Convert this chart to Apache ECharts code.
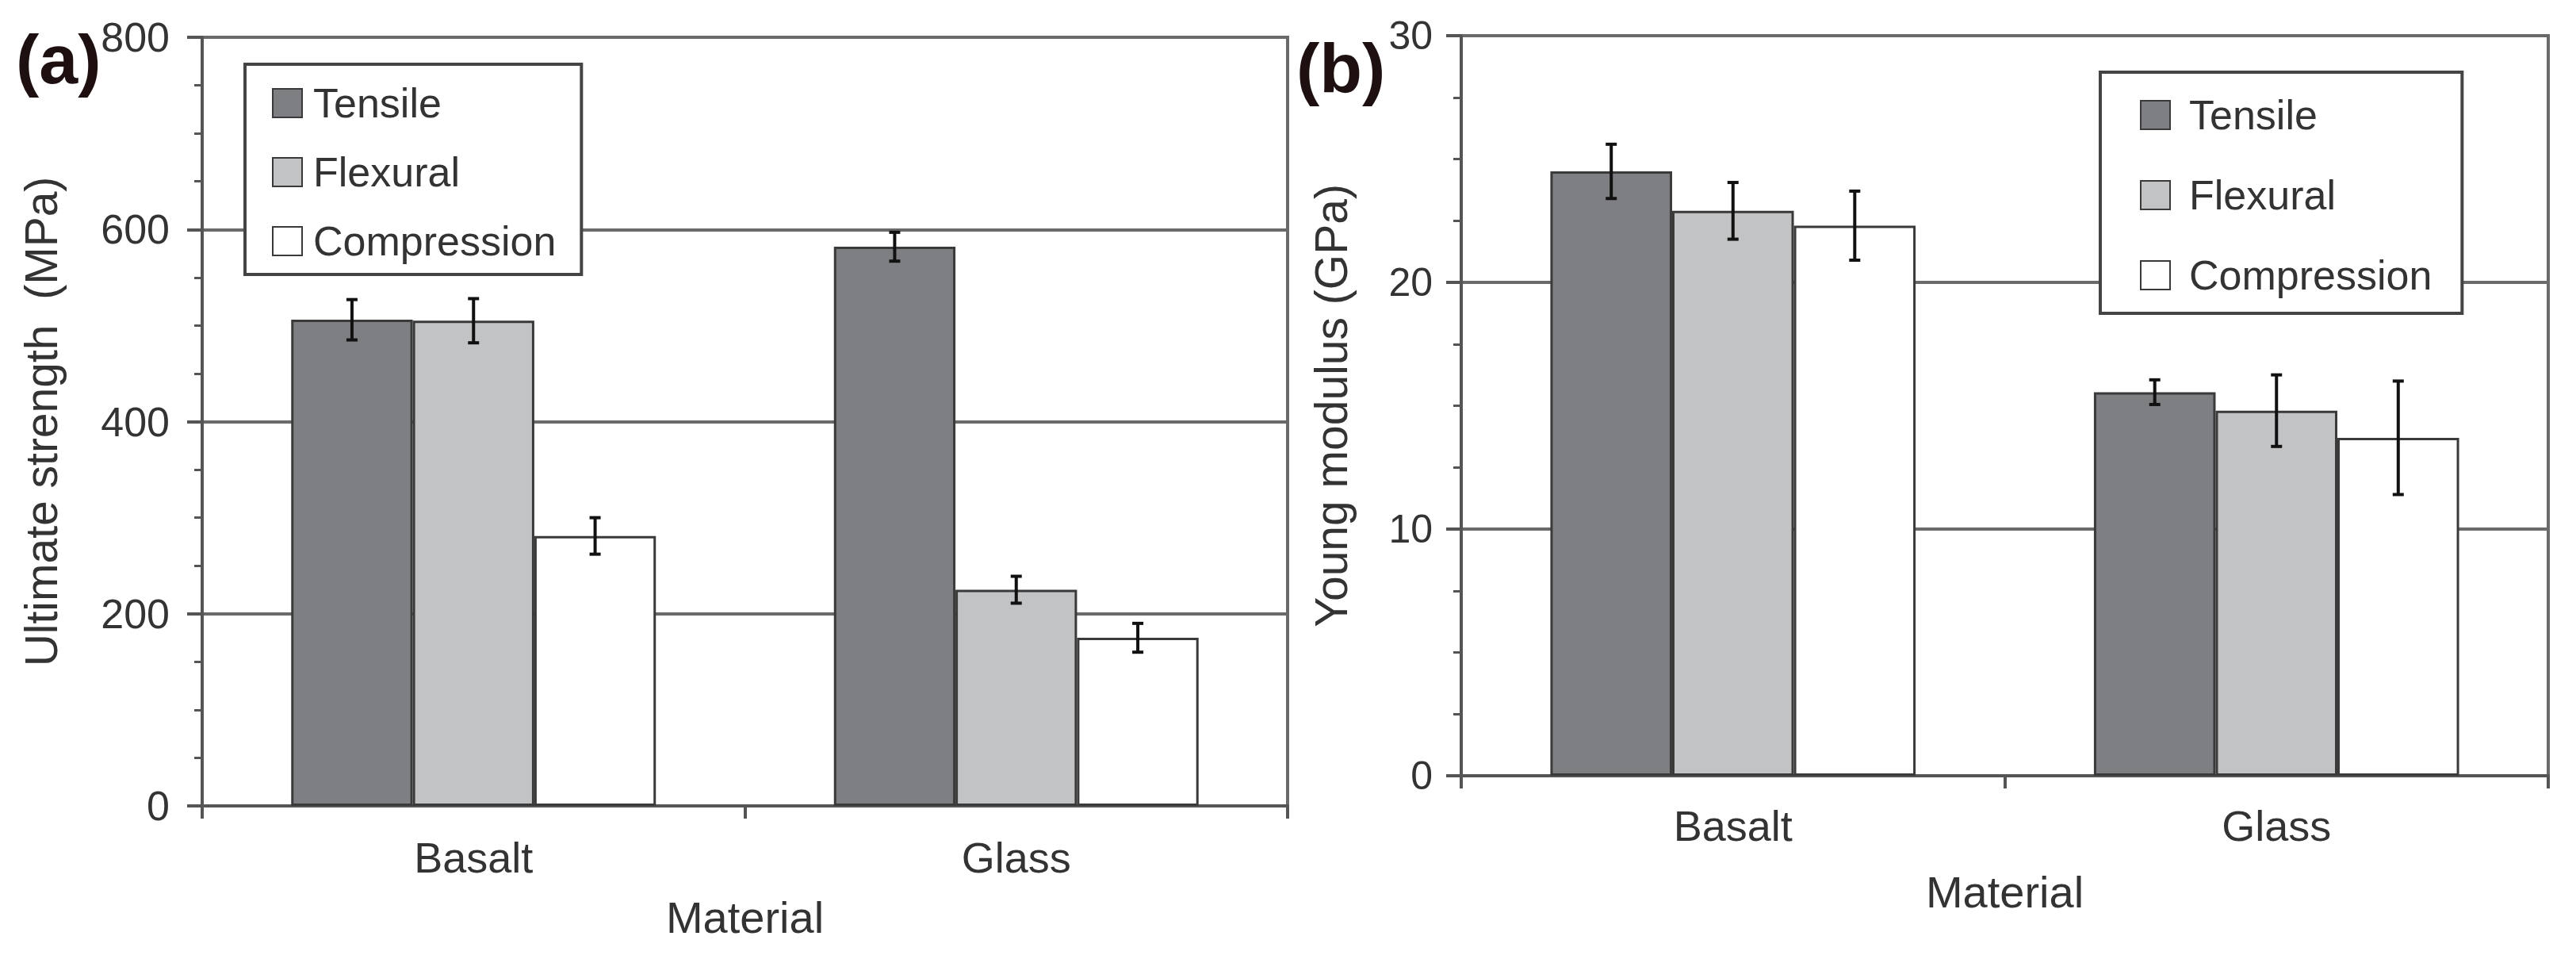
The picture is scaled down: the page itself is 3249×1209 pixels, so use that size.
<!DOCTYPE html>
<html>
<head>
<meta charset="utf-8">
<title>Basalt vs Glass</title>
<script src="https://cdn.jsdelivr.net/npm/echarts@6/dist/echarts.min.js"></script>
<style>
  html, body { margin: 0; padding: 0; background: #fff; }
  #chart { width: 3249px; height: 1209px; }
</style>
</head>
<body>
<div id="chart"></div>
<script>
var categories = ['Basalt', 'Glass'];
var seriesNames = ['Tensile', 'Flexural', 'Compression'];

// (a) ultimate strength, MPa
var strengthTensile = [506, 582];
var strengthTensileErr = [21, 15];
var strengthFlexural = [505, 225];
var strengthFlexuralErr = [23, 14];
var strengthCompression = [281, 175];
var strengthCompressionErr = [19, 15];

// (b) young modulus, GPa
var modulusTensile = [24.5, 15.55];
var modulusTensileErr = [1.1, 0.5];
var modulusFlexural = [22.9, 14.8];
var modulusFlexuralErr = [1.15, 1.45];
var modulusCompression = [22.3, 13.7];
var modulusCompressionErr = [1.4, 2.3];

var strengthTicks = [0, 200, 400, 600, 800];
var modulusTicks = [0, 10, 20, 30];

var fills = ['#7e7f83', '#c2c3c5', '#ffffff'];
var font = "'Liberation Sans', Arial, sans-serif";

var chart = {
    barPct: 0.224,
    render: function () {
        var myChart = echarts.init(document.getElementById('chart'), null, { renderer: 'svg' });

        var strength = [strengthTensile, strengthFlexural, strengthCompression];
        var strengthErr = [strengthTensileErr, strengthFlexuralErr, strengthCompressionErr];
        var modulus = [modulusTensile, modulusFlexural, modulusCompression];
        var modulusErr = [modulusTensileErr, modulusFlexuralErr, modulusCompressionErr];

        var series = [];
        [strength, modulus].forEach(function (panel, p) {
            panel.forEach(function (vals, i) {
                series.push({
                    name: seriesNames[i],
                    type: 'bar',
                    xAxisIndex: p,
                    yAxisIndex: p,
                    data: vals,
                    barWidth: (chart.barPct * 100) + '%',
                    barGap: '0%',
                    itemStyle: { color: fills[i], borderColor: '#3a3a3a', borderWidth: 3 }
                });
            });
        });
        [strengthErr, modulusErr].forEach(function (panel, p) {
            var vals = p === 0 ? strength : modulus;
            panel.forEach(function (errs, i) {
                series.push({
                    name: seriesNames[i] + ' error',
                    type: 'custom',
                    xAxisIndex: p,
                    yAxisIndex: p,
                    z: 5,
                    data: errs.map(function (e, k) { return [k, vals[i][k], e]; }),
                    renderItem: function (params, api) {
                        var k = api.value(0), v = api.value(1), e = api.value(2);
                        var bw = api.size([1, 0])[0] * chart.barPct;
                        var hi = api.coord([k, v + e]);
                        var lo = api.coord([k, v - e]);
                        var x = hi[0] + (i - 1) * bw;
                        var cap = 7;
                        var st = { stroke: '#111', lineWidth: 4 };
                        return {
                            type: 'group',
                            children: [
                                { type: 'line', shape: { x1: x, y1: hi[1], x2: x, y2: lo[1] }, style: st },
                                { type: 'line', shape: { x1: x - cap, y1: hi[1], x2: x + cap, y2: hi[1] }, style: st },
                                { type: 'line', shape: { x1: x - cap, y1: lo[1], x2: x + cap, y2: lo[1] }, style: st }
                            ]
                        };
                    }
                });
            });
        });

        function xAxis(gridIndex, margin, nameGap) {
            return {
                type: 'category',
                gridIndex: gridIndex,
                data: categories,
                name: 'Material',
                nameLocation: 'middle',
                nameGap: nameGap,
                nameTextStyle: { fontSize: 56, color: '#333', fontFamily: font },
                axisLine: { lineStyle: { color: '#555', width: 4 } },
                axisTick: { show: true, length: 16, lineStyle: { color: '#555', width: 4 } },
                axisLabel: { fontSize: 54, color: '#333', margin: margin, fontFamily: font },
                splitLine: { show: false }
            };
        }
        function yAxis(gridIndex, ticks, name, margin, nameGap, fontSize) {
            return {
                type: 'value',
                gridIndex: gridIndex,
                min: ticks[0],
                max: ticks[ticks.length - 1],
                interval: ticks[1] - ticks[0],
                name: name,
                nameLocation: 'middle',
                nameGap: nameGap,
                nameTextStyle: { fontSize: 57, color: '#333', fontFamily: font },
                axisLine: { show: true, lineStyle: { color: '#555', width: 4 } },
                axisTick: { show: true, length: 19, lineStyle: { color: '#555', width: 4 } },
                minorTick: { show: true, splitNumber: 4, length: 10, lineStyle: { color: '#555', width: 3 } },
                axisLabel: { fontSize: fontSize, color: '#333', margin: margin, fontFamily: font },
                splitLine: { show: true, lineStyle: { color: '#6a6a6a', width: 4 } }
            };
        }
        function legend(left, top, padding, gap, textPad) {
            return {
                data: seriesNames,
                icon: 'rect',
                orient: 'vertical',
                left: left,
                top: top,
                padding: padding,
                itemGap: gap,
                itemWidth: 37,
                itemHeight: 36,
                backgroundColor: '#fff',
                borderColor: '#444',
                borderWidth: 4,
                selectedMode: false,
                textStyle: { fontSize: 52, color: '#333', fontFamily: font, padding: [0, 0, 0, textPad] }
            };
        }

        var option = {
            backgroundColor: '#fff',
            animation: false,
            title: [
                { text: '(a)', left: 20, top: 30, padding: 0, textStyle: { fontSize: 88, fontWeight: 'bold', color: '#1e1010', fontFamily: font } },
                { text: '(b)', left: 1635, top: 41, padding: 0, textStyle: { fontSize: 88, fontWeight: 'bold', color: '#1e1010', fontFamily: font } }
            ],
            legend: [
                legend(309, 81, [23, 32, 16, 34], 35, 9),
                legend(2649, 91, [28, 38, 22, 50], 49, 19)
            ],
            grid: [
                { left: 255, top: 47, width: 1369, height: 969, show: true, borderColor: '#6a6a6a', borderWidth: 4, backgroundColor: '#fff' },
                { left: 1843, top: 45, width: 1371, height: 933, show: true, borderColor: '#6a6a6a', borderWidth: 4, backgroundColor: '#fff' }
            ],
            xAxis: [xAxis(0, 38, 112), xAxis(1, 36, 118)],
            yAxis: [
                yAxis(0, strengthTicks, 'Ultimate strength  (MPa)', 41, 175, 52),
                yAxis(1, modulusTicks, 'Young modulus (GPa)', 36, 136, 50)
            ],
            series: series
        };

        myChart.setOption(option);
    }
};

chart.render();
</script>
</body>
</html>
